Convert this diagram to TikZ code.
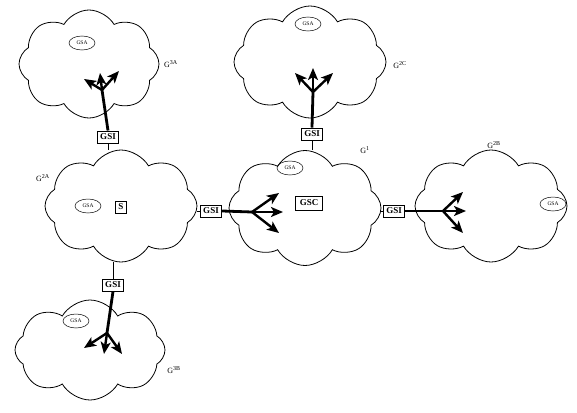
\documentclass[tikz,border=0pt]{standalone}
\usepackage{fontspec}
\setmainfont{Liberation Serif}
\usetikzlibrary{shapes.symbols,shapes.geometric,arrows.meta}

\begin{document}
\begin{tikzpicture}[x=1pt,y=-1pt,
	grid cloud/.style={cloud, cloud puffs=8, cloud puff arc=120, draw, line width=0.8pt, aspect=1.35},
	gsa/.style={ellipse, draw, line width=0.5pt, font=\fontsize{5.5}{5.5}\selectfont, inner sep=0pt, minimum width=26pt, minimum height=14pt},
	gate/.style={rectangle, draw, line width=0.9pt, font=\fontsize{9}{9}\selectfont\bfseries, inner sep=3pt},
	shaft/.style={line width=2.8pt},
	fork/.style={line width=2.4pt, -{Stealth[length=12pt,width=10pt,inset=3pt]}},
	link/.style={line width=0.6pt},
	lbl/.style={font=\fontsize{8}{8}\selectfont}]
	\useasboundingbox (0,0) rectangle (577,412);

	% clouds
	\draw (89,64) node [grid cloud, minimum width=140pt, minimum height=108pt] (g3a) {};
	\draw (310,62) node [grid cloud, minimum width=152pt, minimum height=112pt] (g2c) {};
	\draw (305,208) node [grid cloud, minimum width=152pt, minimum height=115pt] (g1) {};
	\draw (491,206) node [grid cloud, minimum width=152pt, minimum height=112pt] (g2b) {};
	\draw (121,206) node [grid cloud, minimum width=152pt, minimum height=112pt] (g2a) {};
	\draw (90,350) node [grid cloud, minimum width=150pt, minimum height=100pt] (g3b) {};

	% cloud names
	\draw (171,64) node [lbl] {G\textsuperscript{3A}};
	\draw (400,65) node [lbl] {G\textsuperscript{2C}};
	\draw (365,150) node [lbl] {G\textsuperscript{1}};
	\draw (494,145) node [lbl] {G\textsuperscript{2B}};
	\draw (43,178) node [lbl] {G\textsuperscript{2A}};
	\draw (174,370) node [lbl] {G\textsuperscript{3B}};

	% agents
	\draw (82,43) node [gsa] (sa3a) {GSA};
	\draw (308,24) node [gsa] (sa2c) {GSA};
	\draw (290,168) node [gsa] (sa1) {GSA};
	\draw (553,204) node [gsa] (sa2b) {GSA};
	\draw (88,206) node [gsa] (sa2a) {GSA};
	\draw (76,321) node [gsa] (sa3b) {GSA};
	\draw (121,207) node [gate] (s) {S};
	\draw (309,203) node [gate, inner sep=4pt] (gsc) {GSC};

	% gateways
	\draw (108,137) node [gate] (gsia) {GSI};
	\draw (312,134) node [gate] (gsic) {GSI};
	\draw (211,211) node [gate] (gsil) {GSI};
	\draw (394,211) node [gate] (gsir) {GSI};
	\draw (113,285) node [gate] (gsib) {GSI};

	% thin links
	\draw [link] (gsia.south) -- (g2a.north -| gsia.south);
	\draw [link] (gsic.south) -- (g1.north -| gsic.south);
	\draw [link] (g2a.east |- gsil.west) -- (gsil.west);
	\draw [link] (g1.east |- gsir.west) -- (gsir.west);
	\draw [link] (g2a.south -| gsib.north) -- (gsib.north);

	% forks
	\coordinate (fa) at (102,90);
	\coordinate (fc) at (313,92);
	\coordinate (fl) at (252,212);
	\coordinate (fr) at (443,211);
	\coordinate (fb) at (107,333);
	\draw [shaft] (gsia.north) -- (fa);
	\draw [shaft] (gsic.north) -- (fc);
	\draw [shaft] (gsil.east) -- (fl);
	\draw [shaft] (gsir.east) -- (fr);
	\draw [shaft] (gsib.south) -- (fb);
	\foreach \dx/\dy in {-18/-11, -2/-17, 17/-19}
		\draw [fork] (fa) -- ++(\dx,\dy);
	\foreach \dx/\dy in {-18/-19, 0/-24, 20/-19}
		\draw [fork] (fc) -- ++(\dx,\dy);
	\foreach \dx/\dy in {27/-19, 31/0, 27/21}
		\draw [fork] (fl) -- ++(\dx,\dy);
	\foreach \dx/\dy in {20/-19, 23/0, 20/22}
		\draw [fork] (fr) -- ++(\dx,\dy);
	\foreach \dx/\dy in {-23/15, -3/21, 15/21}
		\draw [fork] (fb) -- ++(\dx,\dy);
\end{tikzpicture}
\end{document}
